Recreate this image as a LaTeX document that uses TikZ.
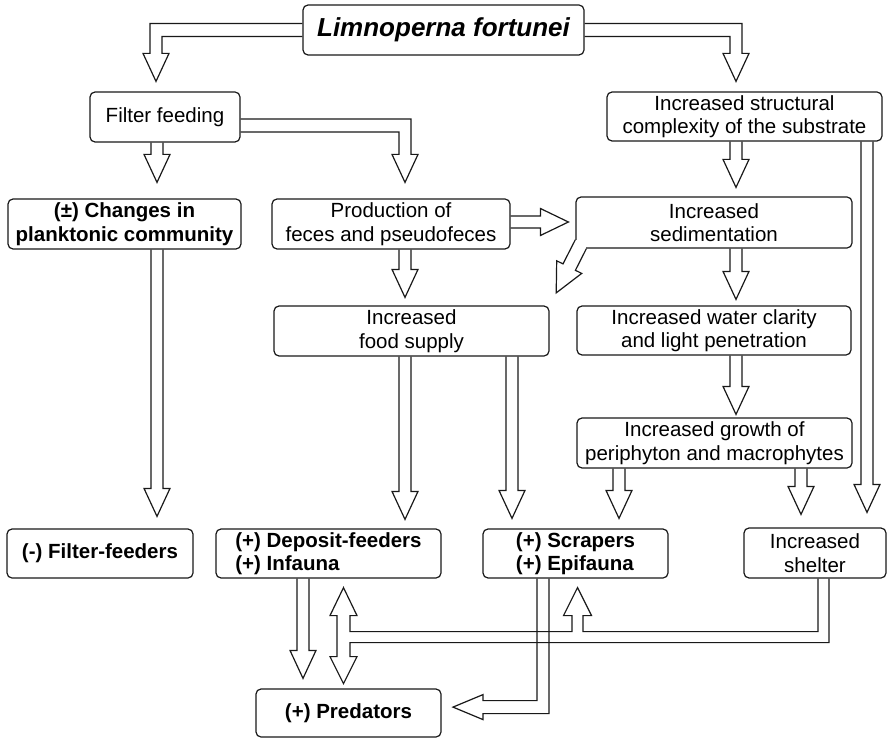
\documentclass[tikz,border=0pt]{standalone}
\usepackage{fontspec}
\setmainfont{Liberation Sans}
\usetikzlibrary{calc}

% open block arrow going down: shaft x, from anchor, to anchor, gap above target
\newcommand{\blockdown}[4]{%
  \draw[blk] let \p1=(#2), \p2=(#3) in
    (#1pt-6pt,\y1) -- (#1pt-6pt,\y2+#4pt+28pt) -- (#1pt-13pt,\y2+#4pt+28pt)
    -- (#1pt,\y2+#4pt) -- (#1pt+13pt,\y2+#4pt+28pt) -- (#1pt+6pt,\y2+#4pt+28pt)
    -- (#1pt+6pt,\y1);}

\begin{document}
\begin{tikzpicture}[x=1pt,y=-1pt,
  box/.style={draw=black!90,line width=1.2pt,rounded corners=5pt,inner sep=0pt,align=center,font=\fontsize{20.5}{23.5}\selectfont},
  bbox/.style={box,font=\fontsize{20.5}{23.5}\selectfont\bfseries},
  blk/.style={draw=black!90,line width=1.2pt,line join=miter}]
\useasboundingbox (0,0) rectangle (889,738);
\node[box,font=\fontsize{26}{30}\selectfont\bfseries\itshape,minimum width=281pt,minimum height=50pt] (title) at (443.5,30) {Limnoperna fortunei};
\node[box,minimum width=150pt,minimum height=50pt] (ff) at (165,117) {Filter feeding};
\node[box,minimum width=275pt,minimum height=49pt] (struct) at (744.5,116.5) {Increased structural\\complexity of the substrate};
\node[bbox,minimum width=233pt,minimum height=50pt] (chg) at (124.5,224) {(±) Changes in\\planktonic community};
\node[box,minimum width=238pt,minimum height=50pt] (prod) at (391,224) {Production of\\feces and pseudofeces};
\node[box,minimum width=276pt,minimum height=51pt] (sed) at (714,222.5) {Increased\\sedimentation};
\node[box,minimum width=275pt,minimum height=50pt] (food) at (411.5,331) {Increased\\food supply};
\node[box,minimum width=274pt,minimum height=49pt] (water) at (714,330.5) {Increased water clarity\\and light penetration};
\node[box,minimum width=275pt,minimum height=50pt] (growth) at (714.5,443) {Increased growth of\\periphyton and macrophytes};
\node[bbox,minimum width=186pt,minimum height=49pt] (ffd) at (100,553.5) {(-) Filter-feeders};
\node[bbox,align=left,minimum width=225pt,minimum height=49pt] (dep) at (328.5,553.5) {(+) Deposit-feeders\\(+) Infauna};
\node[bbox,align=left,minimum width=185pt,minimum height=49pt] (scr) at (575.5,553.5) {(+) Scrapers\\(+) Epifauna};
\node[box,minimum width=142pt,minimum height=50pt] (shel) at (815,553) {Increased\\shelter};
\node[bbox,minimum width=185pt,minimum height=48pt] (pred) at (348.5,713) {(+) Predators};
% from the title
\draw[blk] let \p1=(title.west), \p2=(ff.north) in
  (\x1,\y1+6.5pt) -- (150pt,\y1+6.5pt) -- (150pt,\y2+10pt+28pt) -- (143pt,\y2+10pt+28pt) -- (156pt,\y2+10pt)
  -- (169pt,\y2+10pt+28pt) -- (162pt,\y2+10pt+28pt) -- (162pt,\y1-6.5pt) -- (\x1,\y1-6.5pt);
\draw[blk] let \p1=(title.east), \p2=(struct.north) in
  (\x1,\y1+6.5pt) -- (742pt,\y1+6.5pt) -- (742pt,\y2+10pt+28pt) -- (749pt,\y2+10pt+28pt) -- (736pt,\y2+10pt)
  -- (723pt,\y2+10pt+28pt) -- (730pt,\y2+10pt+28pt) -- (730pt,\y1-6.5pt) -- (\x1,\y1-6.5pt);
% filter feeding
\blockdown{157}{ff.south}{chg.north}{16}
\draw[blk] let \p1=(ff.east), \p2=(prod.north) in
  (\x1,\y1-2pt) -- (411pt,\y1-2pt) -- (411pt,\y2+16pt+28pt) -- (418pt,\y2+16pt+28pt) -- (405pt,\y2+16pt)
  -- (392pt,\y2+16pt+28pt) -- (399pt,\y2+16pt+28pt) -- (399pt,\y1-15pt) -- (\x1,\y1-15pt);
\draw[blk] let \p1=(prod.east), \p2=(sed.west) in
  (\x1,\y1+8pt) -- (\x2-35pt,\y1+8pt) -- (\x2-35pt,\y1+15.5pt) -- (\x2-7pt,\y1+2pt)
  -- (\x2-35pt,\y1-11.5pt) -- (\x2-35pt,\y1-4pt) -- (\x1,\y1-4pt);
\blockdown{405}{prod.south}{food.north}{8}
% sedimentation corner arrow
\fill[white] ($(sed.south west)+(-1.5,-9)$) rectangle ($(sed.south west)+(11,1.5)$);
\draw[blk] ($(sed.south west)+(0,-9)$) -- ++(-12.4,24.3) -- ++(-6.3,-3.1) -- ++(-0.5,32.1)
  -- ++(25.5,-19.5) -- ++(-6.3,-3.1) -- ($(sed.south west)+(11,0)$);
% right column
\blockdown{736}{struct.south}{sed.north}{9}
\blockdown{736}{sed.south}{water.north}{6}
\blockdown{736}{water.south}{growth.north}{3}
\blockdown{867}{struct.south}{shel.north}{15}
% to the bottom row
\blockdown{157}{chg.south}{ffd.north}{12}
\blockdown{405}{food.south}{dep.north}{9}
\blockdown{512}{food.south}{scr.north}{10}
\blockdown{619}{growth.south}{scr.north}{10}
\blockdown{801}{growth.south}{shel.north}{13}
% to the predators
\blockdown{303}{dep.south}{pred.north}{10}
\draw[blk] ([xshift=-38.5pt]scr.south) -- ++(0,122) -- ++(-54,0) -- ++(0,-6) -- ++(-30,12.5)
  -- ++(30,12.5) -- ++(0,-6) -- ++(66,0) -- ([xshift=-26.5pt]scr.south);
\draw[blk] ([xshift=3pt]shel.south) -- ++(0,53) -- ++(-235,0) -- ++(0,-16) -- ++(8.5,0) -- ++(-14,-28)
  -- ++(-14,28) -- ++(8.5,0) -- ++(0,16) -- ++(-222,0) -- ++(0,-16) -- ++(7,0) -- ++(-13.5,-28)
  -- ++(-13.5,28) -- ++(7,0) -- ++(0,41) -- ++(-7,0) -- ++(13.5,27) -- ++(13.5,-27) -- ++(-7,0)
  -- ++(0,-14) -- ++(479,0) -- ([xshift=14pt]shel.south);
\end{tikzpicture}
\end{document}
